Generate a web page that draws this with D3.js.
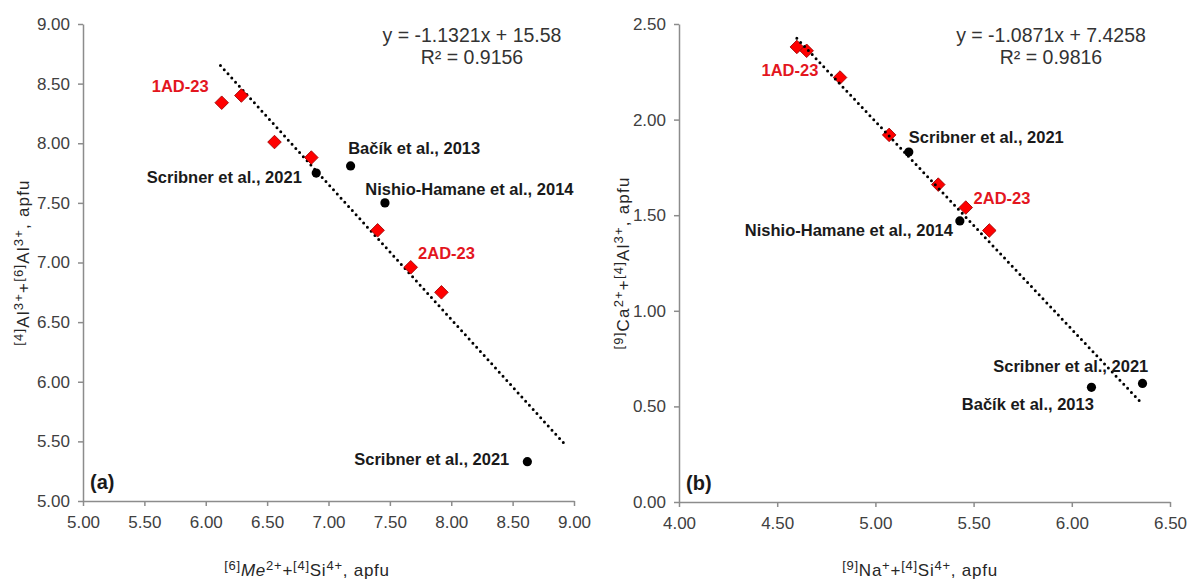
<!DOCTYPE html>
<html>
<head>
<meta charset="utf-8">
<script src="https://cdn.jsdelivr.net/npm/d3@7"></script>
<style>
    body { margin: 0; background: #fff; }
    svg { display: block; font-family: "Liberation Sans", Arial, sans-serif; }
</style>
</head>
<body>
<svg id="chart" width="1191" height="580"></svg>
<script>
// panel (a) values
const aTicksX = [5.00, 5.50, 6.00, 6.50, 7.00, 7.50, 8.00, 8.50, 9.00];
const aTicksY = [5.00, 5.50, 6.00, 6.50, 7.00, 7.50, 8.00, 8.50, 9.00];
const aStudyX = [6.13, 6.29, 6.56, 6.86, 7.40, 7.67, 7.92];
const aStudyY = [8.34, 8.40, 8.01, 7.88, 7.27, 6.96, 6.75];
const aLitX = [6.90, 7.18, 7.46, 8.62];
const aLitY = [7.75, 7.81, 7.50, 5.33];
const aTrend = {slope: -1.1321, intercept: 15.58, r2: 0.9156, from: 6.12, to: 8.93};
const aLabels = [
    {text: "1AD-23", x: 5.56, y: 8.43, kind: "study"},
    {text: "Scribner et al., 2021", x: 5.52, y: 7.67, kind: "lit"},
    {text: "Bačík et al., 2013", x: 7.16, y: 7.91, kind: "lit"},
    {text: "Nishio-Hamane et al., 2014", x: 7.30, y: 7.57, kind: "lit"},
    {text: "2AD-23", x: 7.73, y: 7.03, kind: "study"},
    {text: "Scribner et al., 2021", x: 7.21, y: 5.30, kind: "lit"}
];

// panel (b) values
const bTicksX = [4.00, 4.50, 5.00, 5.50, 6.00, 6.50];
const bTicksY = [0.00, 0.50, 1.00, 1.50, 2.00, 2.50];
const bStudyX = [4.60, 4.65, 4.82, 5.07, 5.32, 5.46, 5.58];
const bStudyY = [2.38, 2.36, 2.22, 1.92, 1.66, 1.54, 1.42];
const bLitX = [5.17, 5.43, 6.10, 6.36];
const bLitY = [1.83, 1.47, 0.60, 0.62];
const bTrend = {slope: -1.0871, intercept: 7.4258, r2: 0.9816, from: 4.60, to: 6.36};
const bLabels = [
    {text: "1AD-23", x: 4.42, y: 2.23, kind: "study"},
    {text: "Scribner et al., 2021", x: 5.17, y: 1.88, kind: "lit"},
    {text: "2AD-23", x: 5.50, y: 1.56, kind: "study"},
    {text: "Nishio-Hamane et al., 2014", x: 5.395, y: 1.39, kind: "lit", end: true},
    {text: "Scribner et al., 2021", x: 5.60, y: 0.68, kind: "lit"},
    {text: "Bačík et al., 2013", x: 5.44, y: 0.48, kind: "lit"}
];

// axis titles, sup = superscript part
const aTitleX = [{t: "[6]", sup: 1}, {t: "Me", it: 1}, {t: "2+", sup: 1}, {t: "+"}, {t: "[4]", sup: 1}, {t: "Si"}, {t: "4+", sup: 1}, {t: ", apfu"}];
const aTitleY = [{t: "[4]", sup: 1}, {t: "Al"}, {t: "3+", sup: 1}, {t: "+"}, {t: "[6]", sup: 1}, {t: "Al"}, {t: "3+", sup: 1}, {t: ", apfu"}];
const bTitleX = [{t: "[9]", sup: 1}, {t: "Na"}, {t: "+", sup: 1}, {t: "+"}, {t: "[4]", sup: 1}, {t: "Si"}, {t: "4+", sup: 1}, {t: ", apfu"}];
const bTitleY = [{t: "[9]", sup: 1}, {t: "Ca"}, {t: "2+", sup: 1}, {t: "+"}, {t: "[4]", sup: 1}, {t: "Al"}, {t: "3+", sup: 1}, {t: ", apfu"}];

const svg = d3.select("#chart");
const fmt = d3.format(".2f");

const myText = (function () {

    // writes main text + superscripts as tspans
    function rich(sel, parts) {
        let shift = 0;
        parts.forEach(function (p) {
            const want = p.sup ? -6 : 0;
            sel.append("tspan")
                .attr("dy", want - shift)
                .attr("font-size", p.sup ? 13 : 17)
                .attr("font-style", p.it ? "italic" : null)
                .text(p.t);
            shift = want;
        });
    }

    // Exposed public
    return {
        rich: rich
    }
})();

const myPanel = (function () {

    function draw(p) {
        const x = d3.scaleLinear().domain(d3.extent(p.ticksX)).range([p.left, p.right]);
        const y = d3.scaleLinear().domain(d3.extent(p.ticksY)).range([p.bottom, p.top]);
        const g = svg.append("g");

        //axes
        const ax = g.append("g").attr("transform", "translate(0," + p.bottom + ")")
            .call(d3.axisBottom(x).tickValues(p.ticksX).tickFormat(fmt).tickSize(5).tickSizeOuter(0).tickPadding(10));
        const ay = g.append("g").attr("transform", "translate(" + p.left + ",0)")
            .call(d3.axisLeft(y).tickValues(p.ticksY).tickFormat(fmt).tickSize(5).tickSizeOuter(0).tickPadding(8));
        [ax, ay].forEach(function (a) {
            a.select(".domain").attr("stroke", "#8c8c8c").attr("stroke-width", 1.5);
            a.selectAll(".tick line").attr("stroke", "#8c8c8c").attr("stroke-width", 1.5);
            a.selectAll(".tick text").attr("font-size", 17).attr("fill", "#404040")
                .attr("font-family", "Liberation Sans, Arial, sans-serif");
        });

        //axis titles
        const tx = g.append("text").attr("x", p.titleXPos).attr("y", 576)
            .attr("text-anchor", "middle").attr("fill", "#262626").attr("letter-spacing", 0.75);
        myText.rich(tx, p.titleX);
        const ty = g.append("text").attr("transform", "translate(" + p.titleYPos + "," + (p.top + p.bottom) / 2 + ") rotate(-90)")
            .attr("text-anchor", "middle").attr("fill", "#262626").attr("letter-spacing", 1.2);
        myText.rich(ty, p.titleY);

        // trend line, from the printed equation
        const t = p.trend;
        const trendPts = [t.from, t.to].map(function (v) { return [v, t.slope * v + t.intercept]; });
        function addTrend() {
            g.append("path")
                .attr("d", d3.line().x(function (d) { return x(d[0]); }).y(function (d) { return y(d[1]); })(trendPts))
                .attr("fill", "none").attr("stroke", "#000")
                .attr("stroke-width", 3).attr("stroke-linecap", "round")
                .attr("stroke-dasharray", "0 5.6");
        }
        if (!p.trendOnTop) addTrend();

        //literature dots
        g.selectAll(".lit").data(p.litX).enter().append("circle")
            .attr("class", "lit")
            .attr("cx", function (d) { return x(d); })
            .attr("cy", function (d, i) { return y(p.litY[i]); })
            .attr("r", 4.6).attr("fill", "#000");

        //study diamonds
        const sq = d3.symbol(d3.symbolSquare, 92)();
        g.selectAll(".study").data(p.studyX).enter().append("path")
            .attr("class", "study")
            .attr("d", sq)
            .attr("transform", function (d, i) { return "translate(" + x(d) + "," + y(p.studyY[i]) + ") rotate(45)"; })
            .attr("fill", "#ff0000").attr("stroke", "#9a0000").attr("stroke-width", 0.8);

        if (p.trendOnTop) addTrend();

        //point labels
        g.selectAll(".lbl").data(p.labels).enter().append("text")
            .attr("class", "lbl")
            .attr("x", function (d) { return x(d.x); })
            .attr("y", function (d) { return y(d.y); })
            .attr("text-anchor", function (d) { return d.end ? "end" : "start"; })
            .attr("font-size", 16.5).attr("font-weight", "bold")
            .attr("fill", function (d) { return d.kind === "study" ? "#e3161e" : "#1a1a1a"; })
            .text(function (d) { return d.text; });

        //panel letter
        g.append("text").attr("x", p.left + 7).attr("y", p.bottom - 12)
            .attr("font-size", 20).attr("font-weight", "bold").attr("fill", "#1a1a1a")
            .text(p.letter);

        //equation
        const eq = g.append("text").attr("text-anchor", "middle").attr("font-size", 19.5).attr("fill", "#333");
        eq.append("tspan").attr("x", p.eqX).attr("y", p.top + 18)
            .text("y = " + t.slope + "x + " + t.intercept);
        eq.append("tspan").attr("x", p.eqX).attr("y", p.top + 40)
            .text("R\u00b2 = " + t.r2);
    }

    // Exposed public
    return {
        draw: draw
    }
})();

myPanel.draw({
    left: 83, right: 574, top: 24, bottom: 501,
    ticksX: aTicksX, ticksY: aTicksY,
    studyX: aStudyX, studyY: aStudyY, litX: aLitX, litY: aLitY,
    trend: aTrend, labels: aLabels, letter: "(a)",
    titleX: aTitleX, titleY: aTitleY, titleXPos: 307, titleYPos: 29,
    eqX: 472, trendOnTop: false
});

myPanel.draw({
    left: 679, right: 1170, top: 24, bottom: 502,
    ticksX: bTicksX, ticksY: bTicksY,
    studyX: bStudyX, studyY: bStudyY, litX: bLitX, litY: bLitY,
    trend: bTrend, labels: bLabels, letter: "(b)",
    titleX: bTitleX, titleY: bTitleY, titleXPos: 920, titleYPos: 629,
    eqX: 1051, trendOnTop: true
});
</script>
</body>
</html>
